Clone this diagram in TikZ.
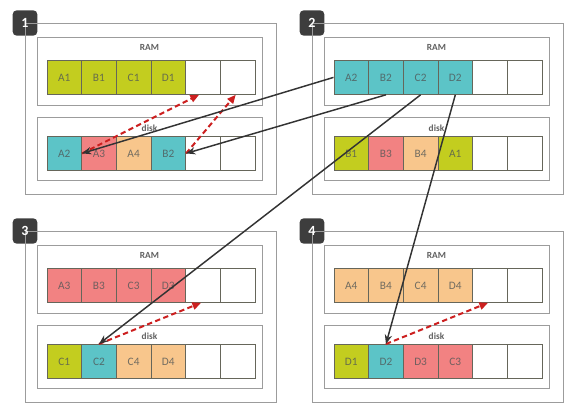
\documentclass[tikz,border=0pt]{standalone}
\usepackage{fontspec}
\setmainfont{Carlito}
\usetikzlibrary{arrows.meta}
\definecolor{olv}{HTML}{C3CD1F}
\definecolor{cyn}{HTML}{5CC4C7}
\definecolor{slm}{HTML}{F28282}
\definecolor{pch}{HTML}{F8C68C}
\definecolor{boxgray}{HTML}{9C9C9C}
\definecolor{cellline}{HTML}{66665A}
\definecolor{badgec}{HTML}{3D3D3D}
\definecolor{redarr}{HTML}{CC1F1F}
\definecolor{txt}{HTML}{505656}
\definecolor{lbl}{HTML}{606060}
\tikzset{
  outerbox/.style={draw=boxgray, line width=0.9pt, minimum width=188.25pt, minimum height=128.25pt, anchor=north west, inner sep=0pt},
  membox/.style={draw=boxgray, line width=1.1pt, minimum width=168.75pt, anchor=north west, inner sep=0pt, fill=white},
  memlabel/.style={font=\fontsize{7}{8}\selectfont\bfseries, text=lbl, inner sep=0pt},
  cell/.style={draw=cellline, line width=0.6pt, minimum width=26pt, minimum height=25.5pt, anchor=north west, inner sep=0pt, font=\fontsize{8.5}{9}\selectfont, text=txt, text opacity=0.8},
  badge/.style={fill=badgec, rounded corners=3pt, minimum width=18.5pt, minimum height=19pt, inner sep=0pt},
  badgenum/.style={text=white, font=\fontsize{10.5}{11}\selectfont\bfseries, inner sep=0pt},
  blk/.style={draw=black!80, line width=1.1pt, -{Stealth[length=7pt,width=5.5pt]}},
  reddash/.style={draw=redarr, line width=1.5pt, dash pattern=on 4pt off 2.5pt, -{Triangle[length=6.5pt,width=5.5pt]}}
}
\newcommand\mypanel[5]{%
\begin{scope}[shift={(#2,#3)}]
  \node[badge] (bg#1) at (0,0) {};
  \node[outerbox] (o#1) at (0,0) {};
  \node[badgenum] (n#1) at (0,0) {#1};
  \node[membox, minimum height=51pt] (ram#1) at (12,14) {};
  \node[memlabel] (rl#1) at (124.5,24) {RAM};
  \node[membox, minimum height=47.25pt] (dsk#1) at (12,94) {};
  \node[memlabel] (dl#1) at (124.5,105) {disk};
  \foreach \lab/\col [count=\i] in {#4} {\node[cell, fill=\col] (p#1r\i) at ({21.5+(\i-1)*34.7},37) {\lab};}
  \foreach \lab/\col [count=\i] in {#5} {\node[cell, fill=\col] (p#1d\i) at ({21.5+(\i-1)*34.7},113) {\lab};}
\end{scope}}
\begin{document}
\begin{tikzpicture}[x=0.75pt,y=-0.75pt]
\useasboundingbox (0,0) rectangle (576,415);
\mypanel{1}{25}{23}{A1/olv,B1/olv,C1/olv,D1/olv,{}/white,{}/white}{A2/cyn,A3/slm,A4/pch,B2/cyn,{}/white,{}/white}
\mypanel{2}{312}{23}{A2/cyn,B2/cyn,C2/cyn,D2/cyn,{}/white,{}/white}{B1/olv,B3/slm,B4/pch,A1/olv,{}/white,{}/white}
\mypanel{3}{25}{231}{A3/slm,B3/slm,C3/slm,D3/slm,{}/white,{}/white}{C1/olv,C2/cyn,C4/pch,D4/pch,{}/white,{}/white}
\mypanel{4}{312}{231}{A4/pch,B4/pch,C4/pch,D4/pch,{}/white,{}/white}{D1/olv,D2/cyn,D3/slm,C3/slm,{}/white,{}/white}
% red dashed moves
\draw[reddash] (p1d1.east) -- ([xshift=-3pt]p1r5.south);
\draw[reddash] (p1d4.east) -- ([xshift=-1.5pt]p1r6.south);
\draw[reddash] (p3d2.north) -- ([xshift=-1.5pt]p3r5.south);
\draw[reddash] (p4d2.north) -- ([xshift=-1.5pt]p4r5.south);
% black moves
\draw[blk] (p2r1.west) -- (p1d1.east);
\draw[blk] (p2r2.south) -- (p1d4.east);
\draw[blk] (p2r3.south) -- (p3d2.north);
\draw[blk] (p2r4.south) -- (p4d2.north);
\end{tikzpicture}
\end{document}
